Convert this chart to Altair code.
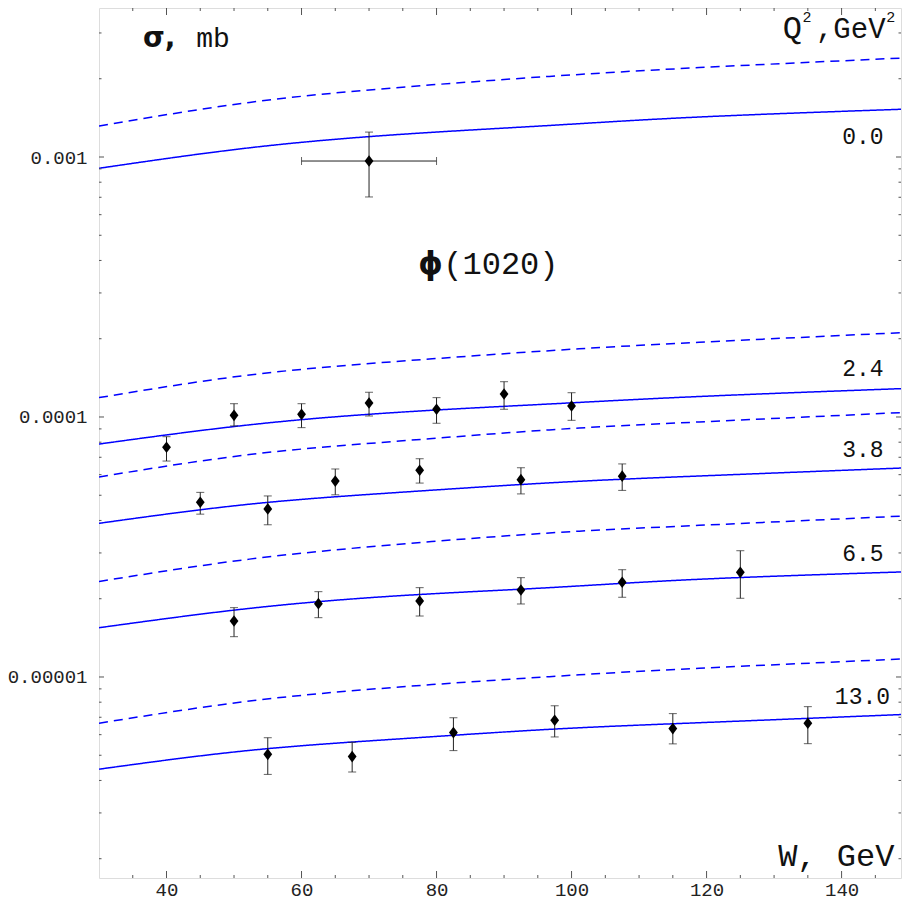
import altair as alt
import pandas as pd

# ------------------------------------------------------------------ data
# model curves, W in GeV, sigma in mb
W_CURVE = [30, 52.3, 74.5, 96.7, 118.9, 150]
Q2_LABELS = ["0.0", "2.4", "3.8", "6.5", "13.0"]

SOLID_00 = [9.05e-4, 1.085e-3, 1.221e-3, 1.322e-3, 1.425e-3, 1.530e-3]
SOLID_24 = [7.87e-5, 9.33e-5, 1.043e-4, 1.122e-4, 1.199e-4, 1.289e-4]
SOLID_38 = [3.90e-5, 4.62e-5, 5.13e-5, 5.58e-5, 5.93e-5, 6.38e-5]
SOLID_65 = [1.547e-5, 1.836e-5, 2.054e-5, 2.206e-5, 2.376e-5, 2.541e-5]
SOLID_130 = [4.42e-6, 5.22e-6, 5.78e-6, 6.29e-6, 6.67e-6, 7.19e-6]

DASHED_00 = [1.316e-3, 1.622e-3, 1.852e-3, 2.042e-3, 2.207e-3, 2.409e-3]
DASHED_24 = [1.187e-4, 1.451e-4, 1.638e-4, 1.799e-4, 1.938e-4, 2.117e-4]
DASHED_38 = [5.88e-5, 7.17e-5, 8.08e-5, 8.92e-5, 9.57e-5, 1.043e-4]
DASHED_65 = [2.33e-5, 2.84e-5, 3.24e-5, 3.58e-5, 3.83e-5, 4.17e-5]
DASHED_130 = [6.64e-6, 8.08e-6, 9.15e-6, 1.003e-5, 1.080e-5, 1.176e-5]

# data points
W_00 = [70]
S_00 = [9.65e-4]
LO_00 = [7.02e-4]
HI_00 = [1.247e-3]
WLO_00 = [60]
WHI_00 = [80]

W_24 = [40, 50, 60, 70, 80, 90, 100]
S_24 = [7.65e-5, 1.015e-4, 1.024e-4, 1.132e-4, 1.071e-4, 1.226e-4, 1.102e-4]
LO_24 = [6.77e-5, 9.24e-5, 9.10e-5, 1.009e-4, 9.46e-5, 1.071e-4, 9.71e-5]
HI_24 = [8.40e-5, 1.125e-4, 1.125e-4, 1.245e-4, 1.187e-4, 1.367e-4, 1.240e-4]

W_38 = [45, 55, 65, 77.5, 92.5, 107.5]
S_38 = [4.70e-5, 4.43e-5, 5.67e-5, 6.24e-5, 5.74e-5, 5.92e-5]
LO_38 = [4.23e-5, 3.85e-5, 5.02e-5, 5.57e-5, 5.06e-5, 5.22e-5]
HI_38 = [5.13e-5, 4.97e-5, 6.31e-5, 6.91e-5, 6.38e-5, 6.60e-5]

W_65 = [50, 62.5, 77.5, 92.5, 107.5, 125]
S_65 = [1.642e-5, 1.914e-5, 1.960e-5, 2.161e-5, 2.314e-5, 2.527e-5]
LO_65 = [1.429e-5, 1.691e-5, 1.716e-5, 1.909e-5, 2.026e-5, 2.008e-5]
HI_65 = [1.848e-5, 2.129e-5, 2.206e-5, 2.410e-5, 2.586e-5, 3.060e-5]

W_130 = [55, 67.5, 82.5, 97.5, 115, 135]
S_130 = [5.04e-6, 4.94e-6, 6.11e-6, 6.82e-6, 6.33e-6, 6.64e-6]
LO_130 = [4.22e-6, 4.31e-6, 5.21e-6, 5.88e-6, 5.53e-6, 5.54e-6]
HI_130 = [5.84e-6, 5.61e-6, 6.97e-6, 7.75e-6, 7.23e-6, 7.69e-6]

# axis ticks
X_MAJOR = [40, 60, 80, 100, 120, 140]
X_MINOR = [35, 45, 50, 55, 65, 70, 75, 85, 90, 95, 105, 110, 115, 125, 130, 135, 145]
Y_MAJOR = [1e-5, 1e-4, 1e-3]
Y_MINOR = [k * 10.0 ** e for e in (-6, -5, -4, -3) for k in range(2, 10)]

# annotation texts (placed in data coordinates)
TXT_REG = ["mb", "Q", "2", ",GeV", "2", "0.0", "2.4", "3.8", "6.5", "13.0", "W,", "GeV", "(1020)"]
TXT_REG_W = [44.4, 131.3, 134.2, 136.2, 146.6, 140.1, 140.1, 140.1, 140.1, 139.0, 130.6, 139.3, 81.0]
TXT_REG_S = [2.648e-3, 2.869e-3, 3.306e-3, 2.869e-3, 3.306e-3, 1.122e-3, 1.438e-4, 7.017e-5,
             2.793e-5, 7.872e-6, 1.875e-6, 1.875e-6, 3.55e-4]
TXT_REG_SIZE = [28, 32, 15, 29, 15, 23, 23, 23, 23, 23, 32, 32, 32]

TXT_BOLD = ["σ,", "ϕ"]
TXT_BOLD_W = [36.5, 77.3]
TXT_BOLD_S = [2.648e-3, 3.55e-4]
TXT_BOLD_SIZE = [28, 31]

# ------------------------------------------------------------------ tables
solid = [SOLID_00, SOLID_24, SOLID_38, SOLID_65, SOLID_130]
dashed = [DASHED_00, DASHED_24, DASHED_38, DASHED_65, DASHED_130]
rows = []
for lab, s_list, d_list in zip(Q2_LABELS, solid, dashed):
    for w, s in zip(W_CURVE, s_list):
        rows.append({"W": w, "sigma": s, "curve": lab + "-solid", "kind": "solid"})
    for w, s in zip(W_CURVE, d_list):
        rows.append({"W": w, "sigma": s, "curve": lab + "-dashed", "kind": "dashed"})
curves = pd.DataFrame(rows)

prow = []
for ws, ss, ls, hs in [(W_00, S_00, LO_00, HI_00), (W_24, S_24, LO_24, HI_24),
                       (W_38, S_38, LO_38, HI_38), (W_65, S_65, LO_65, HI_65),
                       (W_130, S_130, LO_130, HI_130)]:
    for w, s, lo, hi in zip(ws, ss, ls, hs):
        prow.append({"W": w, "sigma": s, "lo": lo, "hi": hi})
pts = pd.DataFrame(prow)
xerr = pd.DataFrame({"W": W_00, "sigma": S_00, "wlo": WLO_00, "whi": WHI_00})

txt_reg = pd.DataFrame({"t": TXT_REG, "W": TXT_REG_W, "sigma": TXT_REG_S, "fs": TXT_REG_SIZE})
txt_bold = pd.DataFrame({"t": TXT_BOLD, "W": TXT_BOLD_W, "sigma": TXT_BOLD_S, "fs": TXT_BOLD_SIZE})

xmaj = pd.DataFrame({"v": X_MAJOR})
xmin = pd.DataFrame({"v": X_MINOR})
ymaj = pd.DataFrame({"v": Y_MAJOR})
ymin = pd.DataFrame({"v": Y_MINOR})

# ------------------------------------------------------------------ chart
WIDTH = 802
HEIGHT = 870
MONO = "Liberation Mono"
FRAME = "#555555"
INK = "#222222"

xs = alt.Scale(domain=[30, 148.8], nice=False, zero=False)
ys = alt.Scale(type="log", domain=[1.686e-6, 3.742e-3], nice=False)

AX_X = alt.Axis(values=X_MAJOR, title=None, grid=False, domain=False, ticks=False,
                labelFont=MONO, labelFontSize=19, labelColor=INK,
                labelPadding=2, labelFlush=False, format="d")
AX_Y = alt.Axis(values=Y_MAJOR, title=None, grid=False, domain=False, ticks=False,
                labelFont=MONO, labelFontSize=19, labelColor=INK,
                labelPadding=12, format=".5~f", labelFlush=False)


def X(field):
    return alt.X(field, type="quantitative", scale=xs, axis=AX_X)


def Y(field):
    return alt.Y(field, type="quantitative", scale=ys, axis=AX_Y)


lines = alt.Chart(curves).mark_line(color="#0000ff", strokeWidth=1.5, interpolate="natural",
                                    clip=True).encode(
    x=X("W"), y=Y("sigma"), detail="curve:N",
    strokeDash=alt.StrokeDash("kind:N", scale=alt.Scale(domain=["solid", "dashed"],
                                                        range=[[1, 0], [9, 6]]), legend=None),
)

ebars = alt.Chart(pts).mark_rule(color=INK, strokeWidth=1).encode(
    x=X("W"), y=Y("lo"), y2="hi:Q")
cap_lo = alt.Chart(pts).mark_tick(color=INK, thickness=1, size=8, orient="horizontal").encode(
    x=X("W"), y=Y("lo"))
cap_hi = alt.Chart(pts).mark_tick(color=INK, thickness=1, size=8, orient="horizontal").encode(
    x=X("W"), y=Y("hi"))

xbar = alt.Chart(xerr).mark_rule(color=INK, strokeWidth=1).encode(
    x=X("wlo"), x2="whi:Q", y=Y("sigma"))
xcap_lo = alt.Chart(xerr).mark_tick(color=INK, thickness=1, size=8, orient="vertical").encode(
    x=X("wlo"), y=Y("sigma"))
xcap_hi = alt.Chart(xerr).mark_tick(color=INK, thickness=1, size=8, orient="vertical").encode(
    x=X("whi"), y=Y("sigma"))

DIAMOND = "M0,-0.95L0.72,0L0,0.95L-0.72,0Z"
points = alt.Chart(pts).mark_point(shape=DIAMOND, filled=True, color="#000000", opacity=1,
                                   size=150).encode(x=X("W"), y=Y("sigma"))


# frame ticks (pointing inward, Mathematica style)
def xticks(df, length):
    bottom = alt.Chart(df).mark_rule(color=FRAME, strokeWidth=1).encode(
        x=X("v"), y=alt.value(HEIGHT), y2=alt.value(HEIGHT - length))
    top = alt.Chart(df).mark_rule(color=FRAME, strokeWidth=1).encode(
        x=X("v"), y=alt.value(0), y2=alt.value(length))
    return [bottom, top]


def yticks(df, length):
    left = alt.Chart(df).mark_rule(color=FRAME, strokeWidth=1, clip=True).encode(
        y=Y("v"), x=alt.value(0), x2=alt.value(length))
    right = alt.Chart(df).mark_rule(color=FRAME, strokeWidth=1, clip=True).encode(
        y=Y("v"), x=alt.value(WIDTH - length), x2=alt.value(WIDTH))
    return [left, right]


tick_layers = xticks(xmaj, 7) + xticks(xmin, 3) + yticks(ymaj, 5) + yticks(ymin, 2.5)

texts = alt.Chart(txt_reg).mark_text(font=MONO, align="left", baseline="alphabetic",
                                     color="#111111").encode(
    x=X("W"), y=Y("sigma"),
    text="t:N", size=alt.Size("fs:Q", scale=None, legend=None))
texts_b = alt.Chart(txt_bold).mark_text(font="DejaVu Sans", fontWeight="bold", align="left",
                                        baseline="alphabetic", color="#111111").encode(
    x=X("W"), y=Y("sigma"),
    text="t:N", size=alt.Size("fs:Q", scale=None, legend=None))

chart = alt.layer(
    lines, *tick_layers, ebars, cap_lo, cap_hi, xbar, xcap_lo, xcap_hi, points, texts, texts_b
).properties(
    width=WIDTH, height=HEIGHT,
    autosize=alt.AutoSizeParams(type="none"),
    padding={"left": 91, "top": 0, "right": 1, "bottom": 25},
).configure_view(
    stroke=FRAME, strokeWidth=1
).configure(background="white")

chart.save("out.html", embed_options={"renderer": "svg", "actions": False})
